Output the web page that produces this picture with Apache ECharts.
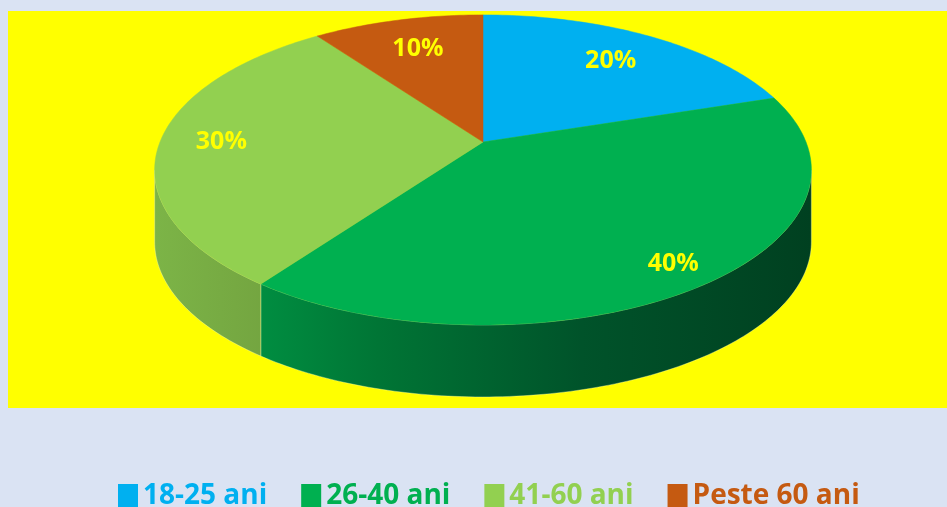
<!DOCTYPE html>
<html lang="ro">
<head>
    <meta charset="UTF-8">
    <title>Vârsta</title>
    <script src="https://cdn.jsdelivr.net/npm/echarts@6/dist/echarts.min.js"></script>
    <style>
        html, body { margin: 0; padding: 0; background: #dae3f3; }
        #main { width: 947px; height: 507px; }
    </style>
</head>
<body>
    <div id="main"></div>
    <script type="text/javascript">
        // date
        var groups = ['18-25 ani', '26-40 ani', '41-60 ani', 'Peste 60 ani'];
        var shares = [20, 40, 30, 10];
        var colors = ['#00b0f0', '#00b050', '#92d050', '#c55a11'];

        // culorile pentru peretele lateral (gradient)
        var sideStops = [
            [[0, '#3a9fd0'], [1, '#1e5f80']],
            [[0, '#00a050'], [0.17, '#008c40'], [0.34, '#007535'], [0.65, '#00532a'], [1, '#004020']],
            [[0, '#7cb447'], [0.2, '#72a23f'], [1, '#40601e']],
            [[0, '#a84a0c'], [1, '#6a2e06']]
        ];

        // geometrie pie 3D (perspectiva)
        var CX = 483, CY = 142, RX = 323, RY = 150, K = 0.18, DEPTH = 72;
        var total = shares.reduce(function (a, b) { return a + b; }, 0);
        var visLo = Math.acos(-K), visHi = 2 * Math.PI - Math.acos(-K);

        function proj(phi, r, dy) {
            var u = r * Math.sin(phi), v = r * Math.cos(phi);
            var s = 1 / (1 + K * v);
            return [CX + RX * u * s, CY - RY * v * s + (dy || 0)];
        }

        function arc(a, b, dy) {
            var pts = [];
            var n = Math.max(2, Math.ceil((b - a) / (Math.PI / 180)));
            for (var i = 0; i <= n; i++) {
                pts.push(proj(a + (b - a) * i / n, 1, dy));
            }
            return pts;
        }

        function renderSlice(params, api) {
            var idx = params.seriesIndex;
            var before = 0;
            for (var i = 0; i < idx; i++) before += shares[i];
            var val = api.value(0);
            var a = before / total * 2 * Math.PI;
            var b = (before + val) / total * 2 * Math.PI;
            var children = [];

            // fata de sus
            var top = [proj(0, 0, 0)].concat(arc(a, b, 0));
            children.push({
                type: 'polygon',
                shape: { points: top },
                style: { fill: colors[idx], stroke: colors[idx], lineWidth: 0.5 },
                z2: 10
            });

            // peretele vizibil din fata
            var lo = Math.max(a, visLo), hi = Math.min(b, visHi);
            if (hi > lo) {
                var upper = arc(lo, hi, 0);
                var lower = arc(lo, hi, DEPTH).reverse();
                children.push({
                    type: 'polygon',
                    shape: { points: upper.concat(lower) },
                    style: {
                        fill: new echarts.graphic.LinearGradient(155, 0, 812, 0,
                            sideStops[idx].map(function (s) { return { offset: s[0], color: s[1] }; }), true),
                        stroke: 'rgba(255,255,200,0.35)',
                        lineWidth: 1
                    },
                    z2: 1
                });
            }

            // eticheta (mai aproape de centru in spate)
            var mid = (a + b) / 2;
            var lp = proj(mid, 0.81 - 0.08 * Math.cos(mid), 0);
            children.push({
                type: 'text',
                x: lp[0],
                y: lp[1],
                style: {
                    text: val + '%',
                    fill: '#ffff00',
                    font: 'bold 25px "Open Sans"',
                    align: 'center',
                    verticalAlign: 'middle'
                },
                z2: 20
            });

            return { type: 'group', children: children };
        }

        var myChart = echarts.init(document.getElementById('main'));

        var option = {
            backgroundColor: '#dae3f3',
            color: colors,
            animation: false,
            graphic: [{
                type: 'rect',
                shape: { x: 8, y: 11, width: 939, height: 397 },
                style: { fill: '#ffff00' },
                z: -10
            }],
            legend: {
                top: 477,
                left: 113,
                icon: 'rect',
                itemWidth: 20,
                itemHeight: 24,
                itemGap: 34,
                data: groups.map(function (g, i) {
                    return { name: g, textStyle: { color: colors[i] } };
                }),
                textStyle: {
                    fontFamily: 'Open Sans',
                    fontWeight: 'bold',
                    fontSize: 28
                }
            },
            series: groups.map(function (g, i) {
                return {
                    name: g,
                    type: 'custom',
                    coordinateSystem: 'none',
                    renderItem: renderSlice,
                    data: [[shares[i]]]
                };
            })
        };

        myChart.setOption(option);
    </script>
</body>
</html>
